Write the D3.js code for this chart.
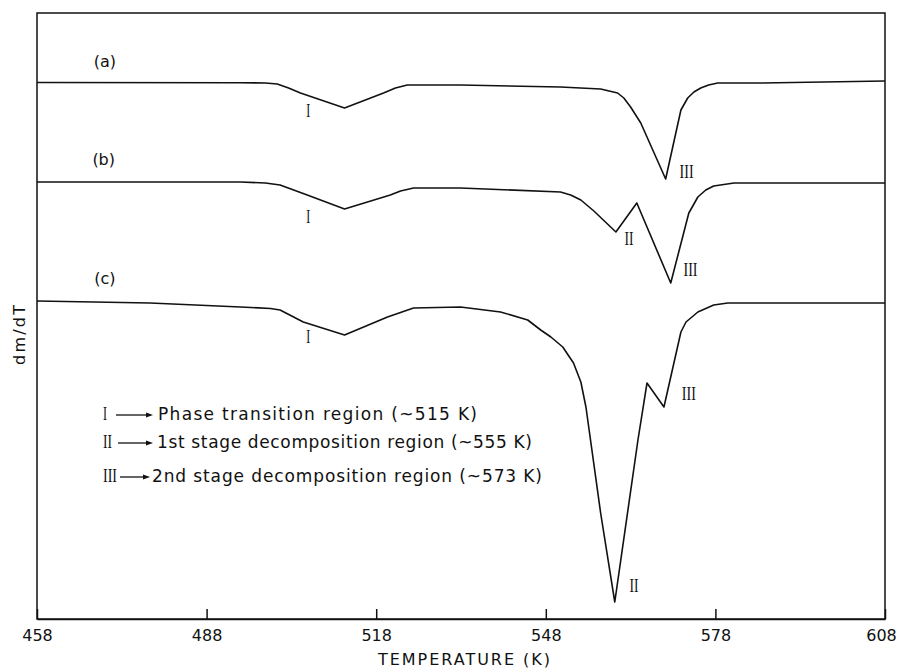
<!DOCTYPE html>
<html>
<head>
<meta charset="utf-8">
<script src="https://cdn.jsdelivr.net/npm/d3@7"></script>
<style>
body { margin: 0; background: #fff; }
svg { display: block; }
</style>
</head>
<body>
<script>
//data start
var tickTemps = [458, 488, 518, 548, 578, 608] //temperature ticks (K)

//curve (a): [temperature K, dm/dT arbitrary units]
var curveA = [[458, 536.5], [494, 536.3], [498.4, 536], [500.5, 535], [502.5, 531], [504.6, 526],
    [512.4, 511], [519.3, 526], [521.4, 531], [523.5, 534], [527.6, 534], [532.9, 534],
    [550.6, 532], [557.7, 530], [560.7, 526], [561.8, 521], [563.0, 512], [564.8, 496],
    [569.2, 440], [571.9, 509], [572.6, 516], [573.1, 521], [574.2, 527], [575.4, 531],
    [576.8, 534], [578.4, 536], [586.0, 536], [608, 538]]

//curve (b)
var curveB = [[458, 437], [494, 437], [498.4, 436], [501, 434], [505.8, 424], [512.4, 410],
    [520.5, 424], [522.3, 428], [524.6, 431], [532.9, 431], [550.6, 427], [552.4, 424],
    [554.2, 419], [556.5, 408], [560.4, 387], [564.1, 416], [570.1, 336], [573.3, 406],
    [574.2, 415], [574.9, 422], [576.3, 429], [577.7, 433], [581.3, 436], [608, 436]]

//curve (c)
var curveC = [[458, 318], [478, 316], [494, 312], [499.3, 310.5], [501, 309], [505.1, 297],
    [512.4, 284], [520, 302], [524.6, 311], [532.9, 312], [540, 307], [544.8, 299],
    [547.1, 289], [548.9, 282], [551, 272], [552.9, 256], [554.2, 237], [555.1, 212],
    [557.7, 106], [560.2, 17], [564.3, 179], [565.9, 236], [568.9, 212], [571.9, 287],
    [572.8, 297], [574.9, 307], [577.7, 314], [580.2, 316], [608, 316]]

var curveNames = ['(a)', '(b)', '(c)']
var curveNameAt = [[470, 552], [469.8, 454], [470, 335]] //anchor in data units

//region numerals along the curves: text, temperature, value
var regionText = ['I', 'I', 'I', 'III', 'II', 'III', 'III', 'II']
var regionTemp = [506.0, 506.0, 506.0, 572.9, 562.7, 573.6, 573.3, 563.6]
var regionVal = [502, 396, 276, 441, 374, 343, 219, 27]

var legendNums = ['I', 'II', 'III']
var legendTexts = ['Phase transition region (~515 K)',
    '1st stage decomposition region (~555 K)',
    '2nd stage decomposition region (~573 K)']
//data end

var w = 898,
    h = 669,
    plotLeft = 37,
    plotRight = 885,
    plotTop = 13,
    plotBottom = 619,
    sans = 'DejaVu Sans, sans-serif',
    serif = 'Liberation Serif, serif',
    numeralWidth = {I: 4, II: 9, III: 14} //narrow roman numerals as in the print

var svg = d3.select('body').append('svg')
    .attr('width', w)
    .attr('height', h)

var x = d3.scaleLinear().domain([458, 608]).range([plotLeft, plotRight])
var y = d3.scaleLinear().domain([0, 606]).range([plotBottom, plotTop])

//frame
svg.append('rect')
    .attr('x', plotLeft)
    .attr('y', plotTop)
    .attr('width', plotRight - plotLeft)
    .attr('height', plotBottom - plotTop)
    .attr('fill', 'none')
    .attr('stroke', '#111')
    .attr('stroke-width', 1.5)

//bottom axis with inward ticks
var axis = svg.append('g')
    .attr('transform', 'translate(0,' + plotBottom + ')')
    .call(d3.axisBottom(x)
        .tickValues(tickTemps)
        .tickSizeInner(-10)
        .tickSizeOuter(0)
        .tickPadding(11)
        .tickFormat(d3.format('d')))

axis.select('.domain').attr('stroke', '#111').attr('stroke-width', 1.5)
axis.selectAll('.tick line').attr('stroke', '#111').attr('stroke-width', 1.5)
axis.selectAll('.tick text')
    .attr('fill', '#111')
    .style('font-family', sans)
    .style('font-size', '16px')
axis.selectAll('.tick text').filter(function(d) { return d == 608 }).attr('dx', -4)

//axis titles
svg.append('text')
    .attr('x', 464)
    .attr('y', 665)
    .attr('text-anchor', 'middle')
    .attr('textLength', 172)
    .attr('lengthAdjust', 'spacing')
    .style('font-family', sans)
    .style('font-size', '16px')
    .attr('fill', '#111')
    .text('TEMPERATURE (K)')

svg.append('text')
    .attr('transform', 'translate(25,335) rotate(-90)')
    .attr('text-anchor', 'middle')
    .attr('textLength', 60)
    .attr('lengthAdjust', 'spacing')
    .style('font-family', sans)
    .style('font-size', '16px')
    .attr('fill', '#111')
    .text('dm/dT')

//curves
var line = d3.line()
    .x(function(d) { return x(d[0]) })
    .y(function(d) { return y(d[1]) })

svg.selectAll('path.curve')
    .data([curveA, curveB, curveC])
    .enter()
    .append('path')
    .attr('class', 'curve')
    .attr('d', line)
    .attr('fill', 'none')
    .attr('stroke', '#111')
    .attr('stroke-width', 1.6)
    .attr('stroke-linejoin', 'round')

//curve names
svg.selectAll('text.name')
    .data(curveNames)
    .enter()
    .append('text')
    .attr('class', 'name')
    .attr('x', function(d, i) { return x(curveNameAt[i][0]) })
    .attr('y', function(d, i) { return y(curveNameAt[i][1]) })
    .attr('text-anchor', 'middle')
    .style('font-family', sans)
    .style('font-size', '16px')
    .attr('fill', '#111')
    .text(function(d) { return d })

//region numerals
svg.selectAll('text.region')
    .data(regionText)
    .enter()
    .append('text')
    .attr('class', 'region')
    .attr('x', function(d, i) { return x(regionTemp[i]) })
    .attr('y', function(d, i) { return y(regionVal[i]) })
    .attr('text-anchor', 'middle')
    .attr('textLength', function(d) { return numeralWidth[d] })
    .attr('lengthAdjust', 'spacingAndGlyphs')
    .style('font-family', serif)
    .style('font-size', '18px')
    .attr('fill', '#111')
    .text(function(d) { return d })

//legend
var rowBase = [420, 448, 482],
    arrowFrom = [116, 118, 120],
    arrowTo = [153, 153, 150],
    textFrom = [158, 157, 152],
    textTo = [477, 532, 542]

var rows = svg.selectAll('g.legend')
    .data(legendNums)
    .enter()
    .append('g')
    .attr('class', 'legend')

rows.append('text')
    .attr('x', 103)
    .attr('y', function(d, i) { return rowBase[i] })
    .attr('textLength', function(d) { return numeralWidth[d] })
    .attr('lengthAdjust', 'spacingAndGlyphs')
    .style('font-family', serif)
    .style('font-size', '18px')
    .attr('fill', '#111')
    .text(function(d) { return d })

rows.append('line')
    .attr('x1', function(d, i) { return arrowFrom[i] })
    .attr('x2', function(d, i) { return arrowTo[i] - 5 })
    .attr('y1', function(d, i) { return rowBase[i] - 5 })
    .attr('y2', function(d, i) { return rowBase[i] - 5 })
    .attr('stroke', '#111')
    .attr('stroke-width', 1.3)

rows.append('path')
    .attr('d', function(d, i) {
        var ax = arrowTo[i], ay = rowBase[i] - 5
        return 'M' + ax + ',' + ay + 'L' + (ax - 7) + ',' + (ay - 2.5) + 'L' + (ax - 7) + ',' + (ay + 2.5) + 'Z'
    })
    .attr('fill', '#111')

rows.append('text')
    .attr('x', function(d, i) { return textFrom[i] })
    .attr('y', function(d, i) { return rowBase[i] })
    .attr('textLength', function(d, i) { return textTo[i] - textFrom[i] })
    .attr('lengthAdjust', 'spacing')
    .style('font-family', sans)
    .style('font-size', '17px')
    .attr('fill', '#111')
    .text(function(d, i) { return legendTexts[i] })
</script>
</body>
</html>
